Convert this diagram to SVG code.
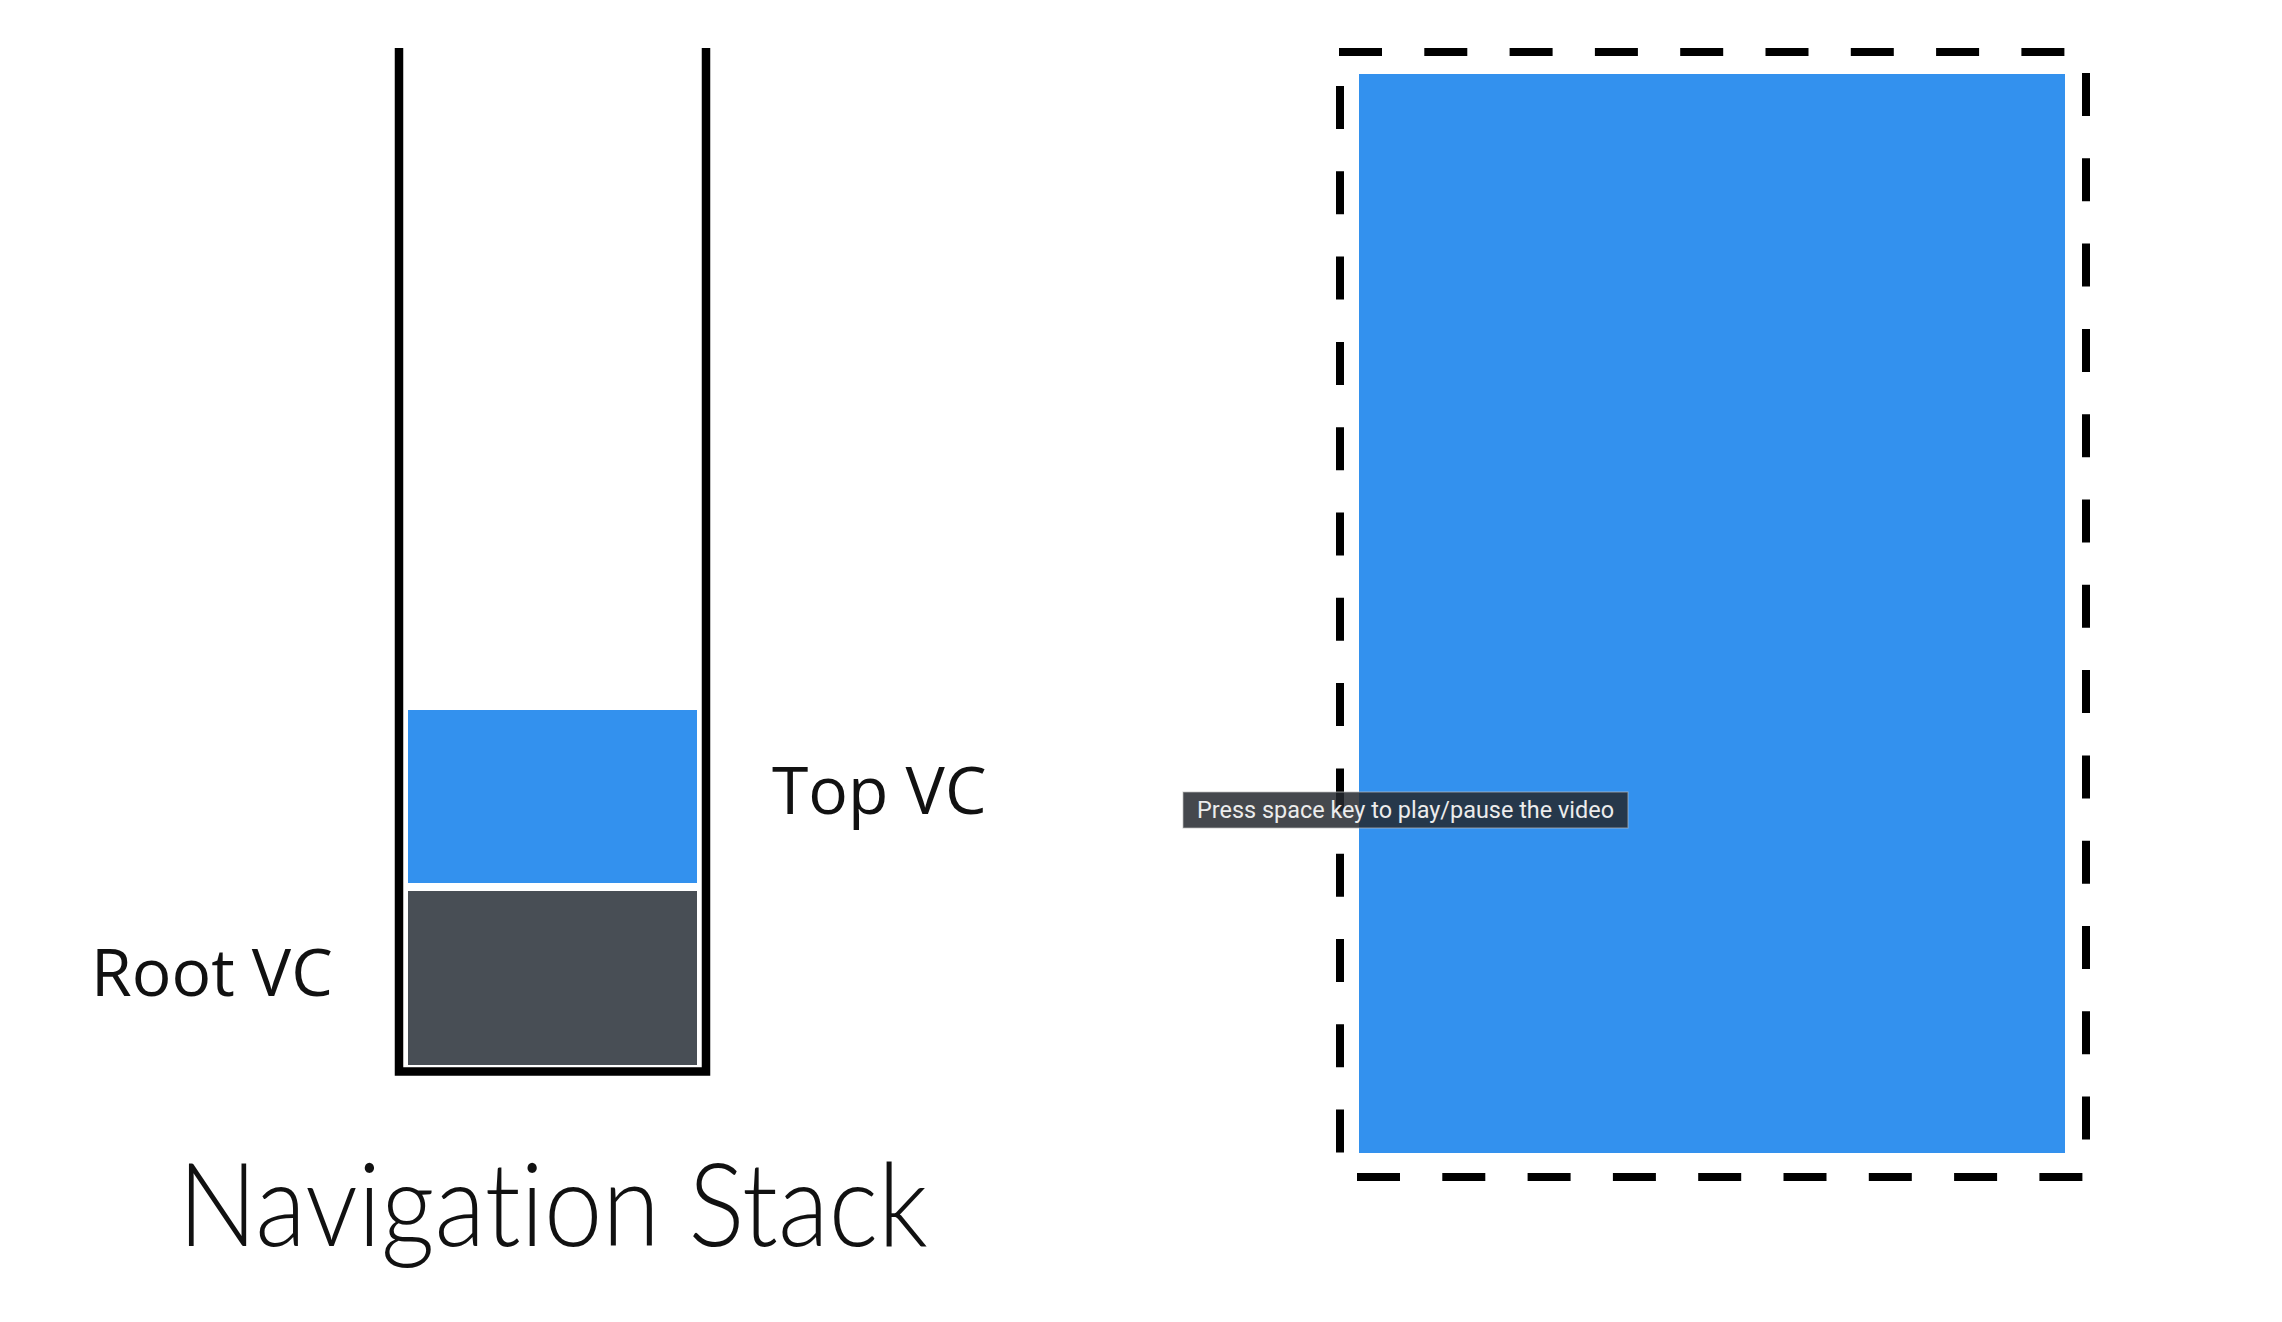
<svg xmlns="http://www.w3.org/2000/svg" width="2282" height="1322" viewBox="0 0 2282 1322">
<style>
.lbl{font-family:"Open Sans","Noto Sans",sans-serif;font-size:66px;fill:#111}
.title{font-family:"Lato","Open Sans",sans-serif;font-weight:300;font-size:116px;fill:#111;font-variant-ligatures:none;font-feature-settings:"liga" 0,"clig" 0}
.blue{fill:#3391ee}
.dark{fill:#484e55}
.dash{stroke:#000;stroke-width:8;fill:none;stroke-dasharray:43 42.3}
.tip{font-family:"Roboto","Liberation Sans",sans-serif;font-size:23px;fill:#ececec}
</style>
<rect width="2282" height="1322" fill="#fff"/>
<g id="stack">
<path d="M399,48 V1071.5 H706 V48" fill="none" stroke="#000" stroke-width="8.5" stroke-linejoin="miter"/>
</g>
<g id="top-vc">
<rect class="blue" x="408" y="710" width="289" height="173"/>
<text class="lbl" x="772" y="814">Top VC</text>
</g>
<g id="root-vc">
<rect class="dark" x="408" y="891" width="289" height="174"/>
<text class="lbl" x="91" y="996">Root VC</text>
</g>
<g id="title">
<text class="title" x="178" y="1246" textLength="750" lengthAdjust="spacingAndGlyphs">Navigation Stack</text>
</g>
<g id="screen">
<rect class="blue" x="1359" y="74" width="706" height="1079"/>
<path class="dash" d="M1339,52 H2065"/>
<path class="dash" d="M1357,1177 H2083"/>
<path class="dash" d="M1340,86 V1153"/>
<path class="dash" d="M2086,73 V1140"/>
</g>
<g id="tooltip">
<rect x="1183" y="792" width="445" height="36" fill="rgba(36,40,46,0.85)" stroke="rgba(190,190,190,0.6)" stroke-width="1.2"/>
<text class="tip" x="1197" y="818" textLength="417" lengthAdjust="spacingAndGlyphs">Press space key to play/pause the video</text>
</g>
</svg>
